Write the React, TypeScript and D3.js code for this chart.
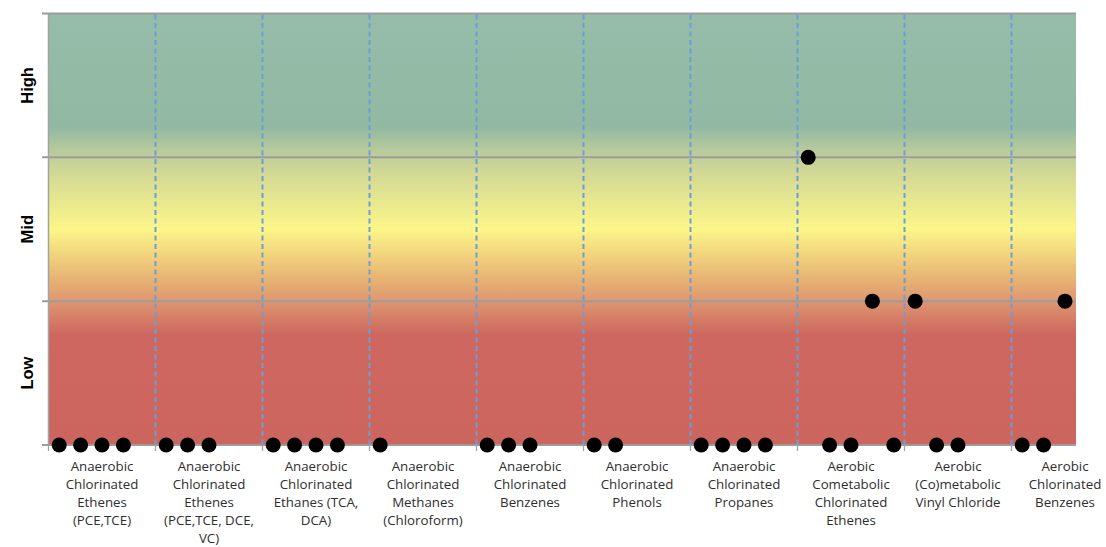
import React from "react";
import * as d3 from "d3";

const categories: string[][] = [
  ["Anaerobic", "Chlorinated", "Ethenes", "(PCE,TCE)"],
  ["Anaerobic", "Chlorinated", "Ethenes", "(PCE,TCE, DCE,", "VC)"],
  ["Anaerobic", "Chlorinated", "Ethanes (TCA,", "DCA)"],
  ["Anaerobic", "Chlorinated", "Methanes", "(Chloroform)"],
  ["Anaerobic", "Chlorinated", "Benzenes"],
  ["Anaerobic", "Chlorinated", "Phenols"],
  ["Anaerobic", "Chlorinated", "Propanes"],
  ["Aerobic", "Cometabolic", "Chlorinated", "Ethenes"],
  ["Aerobic", "(Co)metabolic", "Vinyl Chloride"],
  ["Aerobic", "Chlorinated", "Benzenes"],
];

const levelLabels = ["Low", "Mid", "High"];

// point category index, position within category, level (0=Low line, 1=Mid line, 2=High line)
const pointCat = [0, 0, 0, 0, 1, 1, 1, 2, 2, 2, 2, 3, 4, 4, 4, 5, 5, 6, 6, 6, 6, 7, 7, 7, 7, 7, 8, 8, 8, 9, 9, 9];
const pointPos = [
  0.1, 0.3, 0.5, 0.7,
  0.1, 0.3, 0.5,
  0.1, 0.3, 0.5, 0.7,
  0.1,
  0.1, 0.3, 0.5,
  0.1, 0.3,
  0.1, 0.3, 0.5, 0.7,
  0.1, 0.3, 0.5, 0.7, 0.9,
  0.1, 0.3, 0.5,
  0.1, 0.3, 0.5,
];
const pointLevel = [
  0, 0, 0, 0,
  0, 0, 0,
  0, 0, 0, 0,
  0,
  0, 0, 0,
  0, 0,
  0, 0, 0, 0,
  2, 0, 0, 1, 0,
  1, 0, 0,
  0, 0, 1,
];

const W = 1106;
const H = 547;
const left = 48.5;
const right = 1118.5;
const plotRight = 1076;
const top = 13.5;
const bottom = 445;

export default function App() {
  const x = d3.scaleLinear().domain([0, categories.length]).range([left, right]);
  const y = d3.scaleLinear().domain([0, 3]).range([bottom, top]);
  const boundaries = d3.range(0, categories.length);
  const levels = [0, 1, 2, 3];
  const gradStops: [number, string][] = [
    [0, "#96bda9"],
    [0.26, "#90b8a3"],
    [0.31, "#b3c89d"],
    [0.37, "#d2d995"],
    [0.5, "#fcf689"],
    [0.61, "#e8b674"],
    [0.67, "#de9470"],
    [0.745, "#cd675f"],
    [1, "#cc655e"],
  ];
  return (
    <svg
      width={W}
      height={H}
      style={{ position: "absolute", left: 0, top: 0, background: "#fff" }}
    >
      <defs>
        <linearGradient id="bg" x1="0" y1="0" x2="0" y2="1">
          {gradStops.map(([o, c], i) => (
            <stop key={i} offset={o} stopColor={c} />
          ))}
        </linearGradient>
      </defs>
      <rect x={left} y={top} width={plotRight - left} height={bottom - top} fill="url(#bg)" />
      {levels.map((l) => (
        <line
          key={"g" + l}
          x1={42}
          x2={plotRight}
          y1={y(l)}
          y2={y(l)}
          stroke="#9c9c9c"
          strokeWidth={2}
        />
      ))}
      <line x1={left} x2={left} y1={top} y2={bottom} stroke="#a3a3a3" strokeWidth={1.5} />
      {boundaries.map((b) => (
        <line
          key={"t" + b}
          x1={x(b)}
          x2={x(b)}
          y1={bottom}
          y2={bottom + 6}
          stroke="#a3a3a3"
          strokeWidth={1.3}
        />
      ))}
      {boundaries.slice(1).map((b) => (
        <line
          key={"d" + b}
          x1={x(b)}
          x2={x(b)}
          y1={top + 1}
          y2={bottom}
          stroke="#6a9fd6"
          strokeWidth={2}
          strokeDasharray="5 3.5"
        />
      ))}
      {levelLabels.map((lab, i) => (
        <text
          key={lab}
          transform={`translate(27,${(y(i) + y(i + 1)) / 2}) rotate(-90)`}
          textAnchor="middle"
          dominantBaseline="central"
          fontFamily="Liberation Sans, Arial, sans-serif"
          fontWeight="bold"
          fontSize={16.5}
          fill="#000"
        >
          {lab}
        </text>
      ))}
      {pointCat.map((c, i) => (
        <circle key={"p" + i} cx={x(c + pointPos[i])} cy={y(pointLevel[i])} r={7.5} fill="#000" />
      ))}
      {categories.map((lines, i) => (
        <text
          key={"c" + i}
          x={x(i + 0.5)}
          y={471}
          textAnchor="middle"
          fontFamily="Open Sans, sans-serif"
          fontSize={13.3}
          fill="#2e2e2e"
        >
          {lines.map((ln, j) => (
            <tspan key={j} x={x(i + 0.5)} dy={j === 0 ? 0 : 18}>
              {ln}
            </tspan>
          ))}
        </text>
      ))}
    </svg>
  );
}
